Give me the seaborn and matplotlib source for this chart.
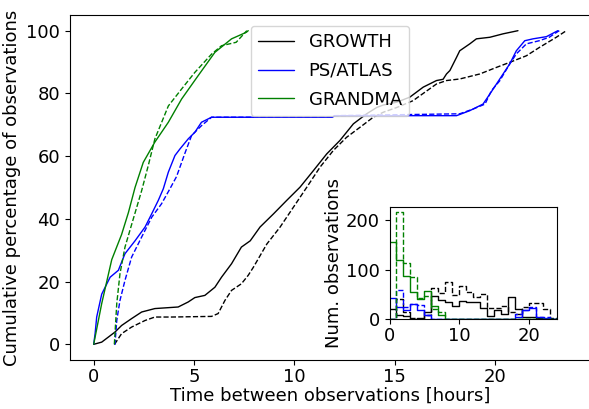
import matplotlib
matplotlib.use("Agg")
import matplotlib.pyplot as plt
import numpy as np
import pandas as pd
import seaborn as sns
from matplotlib.lines import Line2D

# cumulative curves (hours, percent)
growth_t = [0, 0.4, 0.73, 1.06, 1.39, 1.89, 2.39, 3.05, 4.21, 4.71, 5.04, 5.54, 6.04, 6.37, 6.87, 7.36,
            7.8, 8.29, 8.96, 9.62, 10.28, 10.95, 11.61, 12.27, 12.94, 13.6, 14.1, 14.43, 15.1, 15.75,
            16.42, 17.08, 17.41, 17.58, 17.75, 18.08, 18.24, 18.74, 19.07, 19.74, 20.4, 21.14]
growth_pct = [0, 0.7, 2.3, 3.9, 6.0, 8.2, 10.3, 11.4, 11.9, 13.5, 14.9, 15.6, 18.2, 21.4, 25.7, 31.0,
              33.0, 37.4, 41.6, 45.9, 50.1, 55.4, 60.7, 65.0, 70.3, 73.5, 75.5, 76.3, 77.2, 78.8,
              82.0, 84.1, 84.5, 86.2, 87.3, 91.5, 93.6, 95.8, 97.4, 97.9, 99.0, 100]
growth_late_t = [1.03, 1.06, 1.39, 1.89, 2.56, 3.05, 3.88, 5.87, 6.2, 6.54, 6.87, 7.36, 7.7, 7.96, 8.63,
                 9.29, 9.95, 10.62, 11.28, 11.94, 12.6, 13.27, 13.93, 14.43, 15.1, 15.92, 16.09, 17.08,
                 17.58, 18.24, 19.24, 20.07, 20.73, 21.56, 22.22, 23.05, 23.55]
growth_late_pct = [0, 0.2, 3.4, 5.5, 7.6, 8.7, 8.7, 8.9, 9.8, 14.0, 17.2, 19.3, 22.0, 24.6, 32.0,
                   37.4, 43.7, 50.1, 56.5, 61.8, 66.0, 69.2, 72.4, 74.0, 75.5, 77.7, 78.5, 83.0,
                   84.1, 84.6, 86.2, 88.3, 89.9, 92.0, 94.7, 97.9, 100]

ps_t = [0, 0.07, 0.15, 0.4, 0.82, 1.23, 1.56, 2.06, 2.56, 2.89, 3.22, 3.47, 3.72, 4.05, 4.3, 4.71,
        5.04, 5.37, 5.87, 11.9, 12.0, 18.08, 18.74, 19.4, 19.74, 20.07, 20.4, 20.73, 21.06, 21.48,
        21.89, 22.56, 23.13]
ps_pct = [0, 3.4, 8.7, 16.0, 21.4, 23.6, 28.9, 33.0, 37.4, 41.6, 45.9, 49.6, 54.9, 60.2, 62.3, 65.5,
          67.6, 70.8, 72.4, 72.4, 72.9, 72.9, 74.5, 76.6, 79.8, 83.0, 86.2, 89.4, 93.6, 96.8,
          97.4, 98.1, 100]
ps_late_t = [1.03, 1.06, 1.15, 1.31, 1.56, 1.89, 2.39, 2.89, 3.38, 3.8, 4.13, 4.55, 4.88, 5.37, 5.87,
             11.9, 12.0, 18.24, 18.9, 19.5, 19.82, 20.23, 20.73, 21.06, 21.56, 22.2, 22.7, 23.0, 23.2]
ps_late_pct = [0, 0, 7.6, 14.0, 20.4, 27.8, 34.2, 40.5, 44.8, 49.6, 53.5, 61.0, 66.6, 69.7, 72.4,
               72.4, 72.9, 73.5, 75.0, 76.6, 80.9, 84.0, 89.4, 92.6, 95.8, 96.8, 97.9, 99.2, 100]

grandma_t = [0, 0.4, 0.9, 1.39, 1.73, 2.06, 2.47, 3.05, 3.72, 4.38, 5.21, 6.04, 6.87, 7.61, 7.7]
grandma_pct = [0, 13.0, 27.0, 35.0, 42.0, 50.0, 58.0, 64.5, 70.8, 78.2, 85.7, 93.1, 97.4, 99.5, 100]
grandma_late_t = [1.03, 1.15, 1.31, 1.56, 1.9, 2.39, 2.72, 3.05, 3.72, 4.38, 5.04, 5.87, 6.37, 7.1, 7.63]
grandma_late_pct = [0, 13.0, 22.5, 31.0, 38.4, 49.0, 57.0, 65.5, 76.0, 81.4, 86.7, 92.5, 95.2, 96.3, 100]

# inset histogram counts, 1-hour bins from 0 to 24
bin_edges = list(range(0, 25))
growth_counts = [20, 9, 7, 1, 2, 14, 47, 39, 34, 27, 37, 35, 34, 22, 7, 19, 11, 45, 20, 4, 5, 2, 0, 0]
growth_late_counts = [0, 41, 15, 2, 1, 9, 63, 53, 75, 49, 68, 56, 45, 52, 22, 22, 26, 14, 10, 24, 33, 33, 20, 3]
ps_counts = [43, 24, 19, 31, 19, 9, 1, 0, 0, 0, 0, 0, 0, 0, 0, 0, 0, 0, 5, 18, 23, 5, 3, 1]
ps_late_counts = [0, 60, 24, 30, 29, 9, 1, 0, 0, 0, 0, 0, 0, 0, 0, 0, 0, 0, 10, 19, 24, 4, 4, 0]
grandma_counts = [156, 120, 87, 56, 41, 58, 26, 9, 0, 0, 0, 0, 0, 0, 0, 0, 0, 0, 0, 0, 0, 0, 0, 0]
grandma_late_counts = [0, 216, 114, 86, 43, 47, 20, 14, 0, 0, 0, 0, 0, 0, 0, 0, 0, 0, 0, 0, 0, 0, 0, 0]

labels = ["GROWTH", "PS/ATLAS", "GRANDMA"]
colors = ["black", "blue", "green"]

sns.set_style("ticks", {"axes.edgecolor": "black", "xtick.color": "black", "ytick.color": "black",
                        "text.color": "black", "axes.labelcolor": "black"})
plt.rcParams["font.family"] = ["DejaVu Sans"]
plt.rcParams["font.size"] = 13

fig = plt.figure(figsize=(5.89, 4.09), dpi=100)
ax = fig.add_axes([70 / 589, 49 / 409, 520 / 589, 345 / 409])

curves = [
    (growth_t, growth_pct, growth_late_t, growth_late_pct),
    (ps_t, ps_pct, ps_late_t, ps_late_pct),
    (grandma_t, grandma_pct, grandma_late_t, grandma_late_pct),
]
for (t, p, tl, pl), color in zip(curves, colors):
    sns.lineplot(x=t, y=p, color=color, lw=1.0, sort=False, estimator=None, ax=ax)
    sns.lineplot(x=tl, y=pl, color=color, lw=1.0, ls="--", sort=False, estimator=None, ax=ax)

ax.set_xlim(-1.18, 24.73)
ax.set_ylim(-5, 105)
ax.set_xticks([0, 5, 10, 15, 20])
ax.set_yticks([0, 20, 40, 60, 80, 100])
ax.tick_params(axis="x", pad=2)
ax.set_xlabel("Time between observations [hours]", labelpad=1)
ax.set_ylabel("Cumulative percentage of observations")

handles = [Line2D([0], [0], color=c, lw=1.0) for c in colors]
ax.legend(handles, labels, loc="upper center", framealpha=0.8, borderaxespad=0.6, labelspacing=0.6)

axin = fig.add_axes([389.5 / 589, 89.7 / 409, 167.5 / 589, 112.3 / 409])
hists = [
    (growth_counts, growth_late_counts),
    (ps_counts, ps_late_counts),
    (grandma_counts, grandma_late_counts),
]
centers = np.array(bin_edges[:-1]) + 0.5
for (c_now, c_late), color in zip(hists, colors):
    sns.histplot(x=centers, weights=c_now, bins=bin_edges, element="step", fill=False,
                 color=color, lw=1.0, ax=axin)
    sns.histplot(x=centers, weights=c_late, bins=bin_edges, element="step", fill=False,
                 color=color, lw=1.0, ls="--", ax=axin)
axin.set_xlim(0, 24)
axin.set_ylim(0, 227)
axin.set_xticks([0, 10, 20])
axin.set_yticks([0, 100, 200])
axin.tick_params(axis="x", pad=2)
axin.set_xlabel("")
axin.set_ylabel("Num. observations", labelpad=2)

fig.savefig("out.png", dpi=100)
